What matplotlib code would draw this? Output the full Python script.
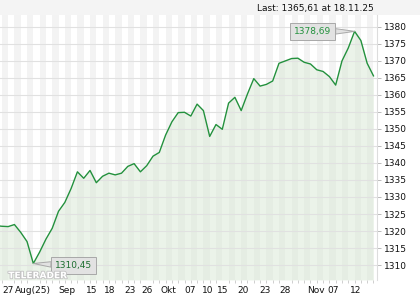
import numpy as np
import matplotlib.pyplot as plt
import matplotlib.patheffects as pe
from matplotlib.patches import Rectangle

# daily closes, one per trading day (index 0 is partly cut off at the left edge)
closes = [1321.6, 1321.4, 1321.3, 1321.9, 1319.6, 1316.9, 1310.45, 1313.8, 1317.6, 1320.8,
          1325.8, 1328.4, 1332.5, 1337.4, 1335.5, 1337.8, 1334.2, 1336.1, 1337.0, 1336.5,
          1337.0, 1339.0, 1339.8, 1337.4, 1339.2, 1342.0, 1343.1, 1348.2, 1352.1, 1354.8,
          1354.9, 1353.8, 1357.3, 1355.4, 1347.8, 1351.3, 1349.9, 1357.6, 1359.3, 1355.4,
          1360.3, 1364.8, 1362.6, 1363.1, 1364.1, 1369.3, 1370.0, 1370.7, 1370.8, 1369.6,
          1369.1, 1367.4, 1366.9, 1365.4, 1362.9, 1370.0, 1373.8, 1378.69, 1376.0, 1369.3,
          1365.61]
last_date = '18.11.25'

tick_labels = ['27', 'Aug(25)', 'Sep', '15', '18', '23', '26', 'Okt', '07', '10',
               '15', '20', '23', '28', 'Nov', '07', '12']
tick_days = [2.0, 6.0, 11.3, 15.2, 18.2, 21.3, 24.0, 27.4, 30.9, 33.7,
             36.0, 39.3, 42.8, 46.0, 50.9, 53.6, 57.1]

y_ticks = list(range(1310, 1381, 5))

LINE = '#23913d'
FS = 6.5


def fmt(v):
    return f"{v:.2f}".replace('.', ',')


def main():
    x = np.arange(len(closes))
    y = np.array(closes)

    fig = plt.figure(figsize=(4.2, 3), dpi=100)
    fig.patch.set_facecolor('white')
    fig.add_artist(Rectangle((0, 1 - 15 / 300), 1, 15 / 300, transform=fig.transFigure,
                             facecolor='#f4f4f4', edgecolor='none', zorder=0))
    fig.text(374 / 420, 1 - 8 / 300, f"Last: {fmt(closes[-1])} at {last_date}",
             ha='right', va='center', fontsize=FS, color='#111111')

    ax = fig.add_axes([0, 20 / 300, 377 / 420, 265 / 300])
    ax.set_xlim(0.71, 60.56)
    ax.set_ylim(1305.6, 1383.5)

    # alternating day stripes
    for i in range(1, len(closes), 2):
        ax.axvspan(i, i + 1, color='#f3f3f3', lw=0, zorder=0)

    ax.fill_between(x, y, ax.get_ylim()[0], color='#d9e8d5', alpha=0.5, lw=0, zorder=1)
    for t in y_ticks:
        ax.axhline(t, color='#e1e1e1', lw=0.8, zorder=2)
    ax.plot(x, y, color=LINE, lw=1.0, zorder=3)

    # high / low callouts
    i_hi, i_lo = int(np.argmax(y)), int(np.argmin(y))
    box = dict(boxstyle='square,pad=0.42', fc='#e2e2e2', ec='#a8a8a8', lw=0.7)
    wedge = dict(arrowstyle='wedge,tail_width=0.6', fc='#e2e2e2', ec='#a8a8a8', lw=0.7,
                 shrinkA=0, shrinkB=0)
    ax.annotate(fmt(y[i_hi]), xy=(x[i_hi], y[i_hi]), xytext=(-30, 0),
                textcoords='offset points', ha='center', va='center', fontsize=FS,
                color=LINE, bbox=box, arrowprops=wedge, zorder=5)
    ax.annotate(fmt(y[i_lo]), xy=(x[i_lo], y[i_lo]), xytext=(29, -1.5),
                textcoords='offset points', ha='center', va='center', fontsize=FS,
                color='#1d6e30', bbox=box, arrowprops=wedge, zorder=5)

    # watermark
    ax.text(0.022, 0.016, 'TELERADER', transform=ax.transAxes, ha='left', va='center',
            fontsize=6.5, fontweight='bold', color='white', zorder=6,
            path_effects=[pe.withStroke(linewidth=1.3, foreground='#c4c4c4')])

    ax.yaxis.tick_right()
    ax.set_yticks(y_ticks)
    ax.tick_params(axis='y', length=3, width=0.7, color='#bbbbbb', labelsize=FS,
                   pad=2, labelcolor='#111111')
    ax.set_xticks(tick_days)
    ax.set_xticklabels(tick_labels)
    ax.set_xticks(np.arange(1, len(closes)), minor=True)
    ax.tick_params(axis='x', which='major', length=0, labelsize=FS, pad=4.5,
                   labelcolor='#111111')
    ax.tick_params(axis='x', which='minor', length=2, width=0.6, color='#c8c8c8')

    for s in ['left', 'top', 'bottom']:
        ax.spines[s].set_visible(False)
    ax.spines['right'].set_color('#dddddd')
    ax.spines['right'].set_linewidth(0.8)

    fig.savefig('out.png', dpi=100)
    plt.close(fig)


if __name__ == "__main__":
    main()
